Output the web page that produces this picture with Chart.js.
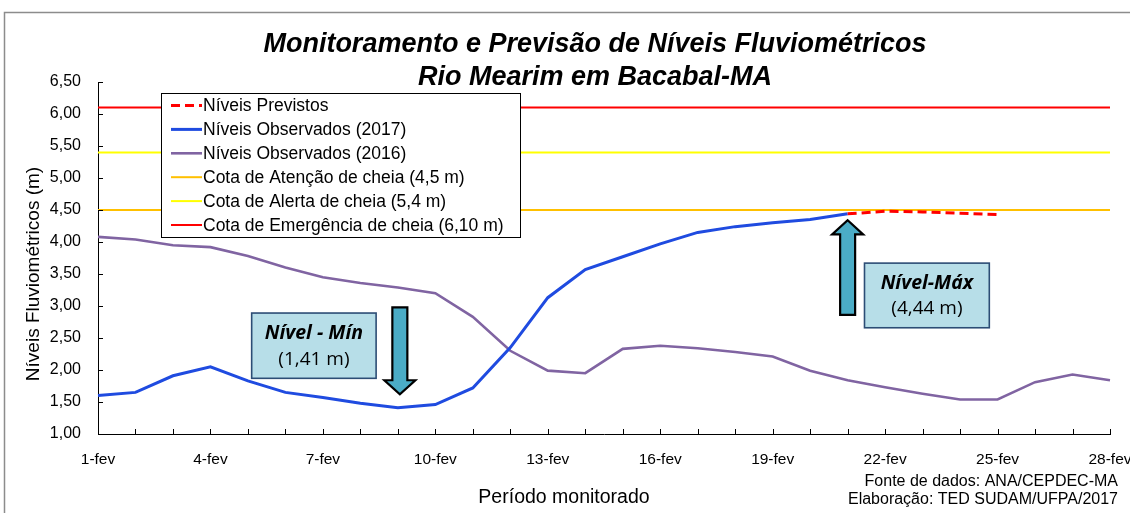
<!DOCTYPE html>
<html>
<head>
<meta charset="utf-8">
<script src="https://cdn.jsdelivr.net/npm/chart.js@4.4.0/dist/chart.umd.min.js"></script>
<style>
  html, body { margin: 0; padding: 0; background: #fff; }
  #wrap { width: 1130px; height: 513px; position: relative; }
</style>
</head>
<body>
<div id="wrap"><canvas id="chart"></canvas></div>
<script>
// dados
const dias = ['1-fev', '2-fev', '3-fev', '4-fev', '5-fev', '6-fev', '7-fev', '8-fev', '9-fev', '10-fev',
    '11-fev', '12-fev', '13-fev', '14-fev', '15-fev', '16-fev', '17-fev', '18-fev', '19-fev', '20-fev',
    '21-fev', '22-fev', '23-fev', '24-fev', '25-fev', '26-fev', '27-fev', '28-fev'];

const niveis2017 = [1.60, 1.65, 1.91, 2.05, 1.83, 1.65, 1.57, 1.48, 1.41, 1.46,
    1.72, 2.35, 3.13, 3.57, 3.77, 3.97, 4.15, 4.24, 4.30, 4.35, 4.44];

const niveis2016 = [4.08, 4.04, 3.95, 3.92, 3.78, 3.60, 3.45, 3.36, 3.29, 3.20,
    2.83, 2.30, 1.99, 1.95, 2.33, 2.38, 2.34, 2.28, 2.21, 1.99,
    1.84, 1.73, 1.63, 1.54, 1.54, 1.81, 1.93, 1.84];

const previstosInicio = 20; // 21-fev
const niveisPrevistos = [4.44, 4.48, 4.47, 4.45, 4.43];

const cotaAtencao = 4.5;
const cotaAlerta = 5.4;
const cotaEmergencia = 6.1;

const yTicks = [1.0, 1.5, 2.0, 2.5, 3.0, 3.5, 4.0, 4.5, 5.0, 5.5, 6.0, 6.5];

const dadosPrevistos = dias.map((d, i) =>
    (i >= previstosInicio && i < previstosInicio + niveisPrevistos.length) ? niveisPrevistos[i - previstosInicio] : null);

const FONT = "'Liberation Sans', Arial, sans-serif";

function drawArrow(ctx, cx, yTail, yBase, yTip, hs, hh) {
    ctx.beginPath();
    ctx.moveTo(cx - hs, yTail);
    ctx.lineTo(cx + hs, yTail);
    ctx.lineTo(cx + hs, yBase);
    ctx.lineTo(cx + hh, yBase);
    ctx.lineTo(cx, yTip);
    ctx.lineTo(cx - hh, yBase);
    ctx.lineTo(cx - hs, yBase);
    ctx.closePath();
    ctx.fillStyle = '#4BACC6';
    ctx.fill();
    ctx.lineWidth = 2.2;
    ctx.strokeStyle = '#000';
    ctx.lineJoin = 'miter';
    ctx.stroke();
}

function drawBox(ctx, x1, y1, x2, y2, l1, l2) {
    ctx.fillStyle = '#B7DEE8';
    ctx.fillRect(x1, y1, x2 - x1, y2 - y1);
    ctx.strokeStyle = '#2C4D75';
    ctx.lineWidth = 1.6;
    ctx.strokeRect(x1, y1, x2 - x1, y2 - y1);
    const cx = (x1 + x2) / 2;
    const h = y2 - y1;
    ctx.fillStyle = '#000';
    ctx.textAlign = 'center';
    ctx.textBaseline = 'middle';
    ctx.font = "italic bold 19.5px 'Open Sans', sans-serif";
    ctx.fillText(l1, cx, y1 + h * 0.31);
    ctx.font = "19px 'Open Sans', sans-serif";
    ctx.fillText(l2, cx, y1 + h * 0.71);
}

const decor = {
    id: 'decor',
    beforeDraw(chart) {
        const ctx = chart.ctx;
        ctx.save();
        ctx.fillStyle = '#fff';
        ctx.fillRect(0, 0, chart.width, chart.height);
        ctx.strokeStyle = '#8c8c8c';
        ctx.lineWidth = 1.5;
        ctx.strokeRect(4.5, 12.5, chart.width + 10, chart.height + 10);
        ctx.restore();
    },
    afterDatasetsDraw(chart) {
        const ctx = chart.ctx;
        const x = chart.scales.x, y = chart.scales.y;
        const a = chart.chartArea;
        ctx.save();

        // marcas dos eixos para dentro
        ctx.strokeStyle = '#000';
        ctx.lineWidth = 1;
        yTicks.forEach(v => {
            const py = Math.round(y.getPixelForValue(v)) + 0.5;
            ctx.beginPath(); ctx.moveTo(a.left, py); ctx.lineTo(a.left + 5, py); ctx.stroke();
        });
        dias.forEach((d, i) => {
            const px = Math.round(x.getPixelForValue(i)) + 0.5;
            ctx.beginPath(); ctx.moveTo(px, a.bottom); ctx.lineTo(px, a.bottom - 5); ctx.stroke();
        });

        // legenda
        const lx = 161, ly = 93, lw = 359, lh = 144;
        ctx.fillStyle = '#fff';
        ctx.fillRect(lx, ly, lw, lh);
        ctx.strokeStyle = '#000';
        ctx.lineWidth = 1;
        ctx.strokeRect(lx + 0.5, ly + 0.5, lw, lh);
        ctx.font = '17.5px ' + FONT;
        ctx.textAlign = 'left';
        ctx.textBaseline = 'middle';
        chart.data.datasets.forEach((ds, i) => {
            const ry = ly + 12.5 + i * 23.9;
            ctx.beginPath();
            ctx.setLineDash(ds.borderDash || []);
            ctx.strokeStyle = ds.borderColor;
            ctx.lineWidth = ds.borderWidth;
            ctx.moveTo(171, ry); ctx.lineTo(202, ry);
            ctx.stroke();
            ctx.setLineDash([]);
            ctx.fillStyle = '#000';
            ctx.fillText(ds.label, 203, ry + 1);
        });

        // nível mínimo
        const minX = x.getPixelForValue(8);
        drawArrow(ctx, minX + 2, y.getPixelForValue(2.98), y.getPixelForValue(1.84), y.getPixelForValue(1.62), 7.5, 15.5);
        drawBox(ctx, x.getPixelForValue(4.1), y.getPixelForValue(2.89), x.getPixelForValue(7.42), y.getPixelForValue(1.87),
            'Nível - Mín', '(1,41 m)');

        // nível máximo
        const maxX = x.getPixelForValue(20);
        drawArrow(ctx, maxX, y.getPixelForValue(2.86), y.getPixelForValue(4.12), y.getPixelForValue(4.34), 7.5, 15.5);
        drawBox(ctx, x.getPixelForValue(20.45), y.getPixelForValue(3.67), x.getPixelForValue(23.78), y.getPixelForValue(2.66),
            'Nível-Máx', '(4,44 m)');

        ctx.restore();
    },
    afterDraw(chart) {
        const ctx = chart.ctx;
        ctx.save();
        ctx.fillStyle = '#000';
        ctx.textAlign = 'center';
        ctx.textBaseline = 'middle';
        ctx.font = 'italic bold 27px ' + FONT;
        ctx.fillText('Monitoramento e Previsão de Níveis Fluviométricos', 595, 45);
        ctx.fillText('Rio Mearim em Bacabal-MA', 595, 78);

        ctx.font = '19.5px ' + FONT;
        ctx.fillText('Período monitorado', 564, 498);

        ctx.save();
        ctx.translate(34, 274);
        ctx.rotate(-Math.PI / 2);
        ctx.font = '19px ' + FONT;
        ctx.fillText('Níveis Fluviométricos (m)', 0, 0);
        ctx.restore();

        ctx.textAlign = 'right';
        ctx.font = '16px ' + FONT;
        ctx.fillText('Fonte de dados: ANA/CEPDEC-MA', 1118, 482);
        ctx.fillText('Elaboração: TED SUDAM/UFPA/2017', 1118, 500);
        ctx.restore();
    }
};

new Chart(document.getElementById('chart').getContext('2d'), {
    type: 'line',
    data: {
        labels: dias,
        datasets: [
            { label: 'Níveis Previstos', data: dadosPrevistos, borderColor: '#FF0000', borderWidth: 3, borderDash: [9, 5] },
            { label: 'Níveis Observados (2017)', data: niveis2017, borderColor: '#1F4BE0', borderWidth: 3 },
            { label: 'Níveis Observados (2016)', data: niveis2016, borderColor: '#8064A2', borderWidth: 2.6 },
            { label: 'Cota de Atenção de cheia (4,5 m)', data: dias.map(() => cotaAtencao), borderColor: '#FFC000', borderWidth: 2 },
            { label: 'Cota de Alerta de cheia (5,4 m)', data: dias.map(() => cotaAlerta), borderColor: '#FFFF00', borderWidth: 2 },
            { label: 'Cota de Emergência de cheia (6,10 m)', data: dias.map(() => cotaEmergencia), borderColor: '#FF0000', borderWidth: 2 }
        ]
    },
    options: {
        responsive: true,
        maintainAspectRatio: false,
        animation: false,
        layout: { padding: { top: 82, left: 0, right: 0, bottom: 0 } },
        elements: { point: { radius: 0 }, line: { tension: 0 } },
        plugins: {
            legend: { display: false },
            tooltip: { enabled: false },
            title: { display: false }
        },
        scales: {
            x: {
                afterFit(s) { s.height = 79; s.paddingRight = 20; },
                grid: { display: false, drawTicks: false },
                border: { display: true, color: '#000', width: 1 },
                ticks: {
                    autoSkip: false,
                    maxRotation: 0,
                    padding: 16,
                    color: '#000',
                    font: { family: FONT, size: 15.5 },
                    callback(v, i) { return i % 3 === 0 ? dias[i] : ''; }
                }
            },
            y: {
                min: 1,
                max: 6.5,
                afterFit(s) { s.width = 98; },
                grid: { display: false, drawTicks: false },
                border: { display: true, color: '#000', width: 1 },
                ticks: {
                    stepSize: 0.5,
                    padding: 17,
                    color: '#000',
                    font: { family: FONT, size: 16 },
                    callback(v) { return v.toFixed(2).replace('.', ','); }
                }
            }
        }
    },
    plugins: [decor]
});
</script>
</body>
</html>
